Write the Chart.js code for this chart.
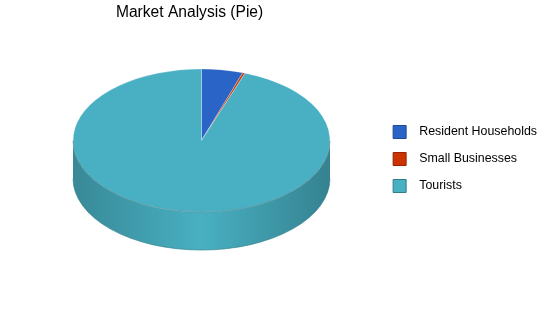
<!DOCTYPE html>
<html>
<head>
<meta charset="utf-8">
<script src="https://cdn.jsdelivr.net/npm/chart.js@4.4.1/dist/chart.umd.min.js"></script>
<style>
  body { margin: 0; background: #fff; }
  #pie3d { display: block; }
</style>
</head>
<body>
<canvas id="pie3d" width="550" height="318"></canvas>
<script>
// market share values (percent)
var segments = ["Resident Households", "Small Businesses", "Tourists"];
var shares = [5.2, 0.3, 94.5];
var sliceColors = ["#2a64c6", "#cc3300", "#48b0c2"];
var edgeColors = ["#1d4a94", "#952600", "#2f7e8a"];

// look of the tilted pie
var pieCenter = { x: 201.5, y: 140.5 };
var tilt = 0.557;
var depth = 38;

var shade = function (hex, f) {
    var n = parseInt(hex.slice(1), 16);
    var r = Math.round(((n >> 16) & 255) * f), g = Math.round(((n >> 8) & 255) * f), b = Math.round((n & 255) * f);
    return "rgb(" + Math.min(r, 255) + "," + Math.min(g, 255) + "," + Math.min(b, 255) + ")";
};

var tiltPlugin = {
    id: 'tilt3d',
    beforeDatasetsDraw: function (chart) {
        var ctx = chart.ctx;
        var arcs = chart.getDatasetMeta(0).data;
        var cx = pieCenter.x, cy = pieCenter.y;
        ctx.save();
        arcs.forEach(function (arc, i) {
            var p = arc.getProps(['startAngle', 'endAngle', 'outerRadius'], true);
            var rx = p.outerRadius, ry = p.outerRadius * tilt;
            // front wall is where the angle falls in 0..PI (and 2PI..3PI)
            [0, 2 * Math.PI].forEach(function (off) {
                var a0 = Math.max(p.startAngle, off), a1 = Math.min(p.endAngle, off + Math.PI);
                if (a1 <= a0) return;
                var grad = ctx.createLinearGradient(cx - rx, 0, cx + rx, 0);
                var base = sliceColors[i];
                grad.addColorStop(0, shade(base, 0.78));
                grad.addColorStop(0.5, shade(base, 1.0));
                grad.addColorStop(1, shade(base, 0.74));
                ctx.beginPath();
                ctx.ellipse(cx, cy, rx, ry, 0, a0, a1);
                ctx.ellipse(cx, cy + depth, rx, ry, 0, a1, a0, true);
                ctx.closePath();
                ctx.fillStyle = grad;
                ctx.fill();
                ctx.strokeStyle = edgeColors[i];
                ctx.lineWidth = 0.6;
                ctx.beginPath();
                ctx.ellipse(cx, cy + depth, rx, ry, 0, a0, a1);
                ctx.stroke();
            });
        });
        ctx.restore();
        // squash the flat pie into an ellipse at the pie centre
        var a = arcs[0];
        ctx.save();
        ctx.translate(cx, cy);
        ctx.scale(1, tilt);
        ctx.translate(-a.x, -a.y);
    },
    afterDatasetsDraw: function (chart) {
        var ctx = chart.ctx;
        ctx.restore();
        // thin rim where top meets the wall
        var arcs = chart.getDatasetMeta(0).data;
        var r = arcs[0].outerRadius;
        ctx.save();
        ctx.strokeStyle = "rgba(40,110,122,0.8)";
        ctx.lineWidth = 0.6;
        ctx.beginPath();
        ctx.ellipse(pieCenter.x, pieCenter.y, r, r * tilt, 0, 0, Math.PI);
        ctx.stroke();
        ctx.restore();
    }
};

var ctx_pie = document.getElementById("pie3d");
var pie_g = new Chart(ctx_pie, {
    type: 'pie',
    data: {
        labels: segments,
        datasets: [{
            data: shares,
            backgroundColor: sliceColors,
            borderColor: "rgba(255,255,255,0.35)",
            borderWidth: 1,
            radius: 128.5,
            clip: false
        }]
    },
    options: {
        responsive: false,
        animation: false,
        devicePixelRatio: 1,
        layout: { padding: { right: 3 } },
        plugins: {
            tooltip: { enabled: false },
            title: {
                display: true,
                text: "Market Analysis (Pie)",
                color: "#000",
                fullSize: false,
                font: { family: "'Liberation Sans', Arial, sans-serif", size: 15.6, weight: 'normal' },
                padding: { top: 3, bottom: 10 }
            },
            legend: {
                position: 'right',
                align: 'center',
                labels: {
                    color: "#000",
                    boxWidth: 13,
                    boxHeight: 13,
                    padding: 14,
                    font: { family: "'Liberation Sans', Arial, sans-serif", size: 12.4 },
                    generateLabels: function (chart) {
                        var items = Chart.overrides.pie.plugins.legend.labels.generateLabels(chart);
                        items.forEach(function (it, i) {
                            it.text = "  " + it.text;
                            it.strokeStyle = edgeColors[i];
                            it.lineWidth = 1;
                        });
                        return items;
                    }
                }
            }
        }
    },
    plugins: [tiltPlugin]
});
</script>
</body>
</html>
